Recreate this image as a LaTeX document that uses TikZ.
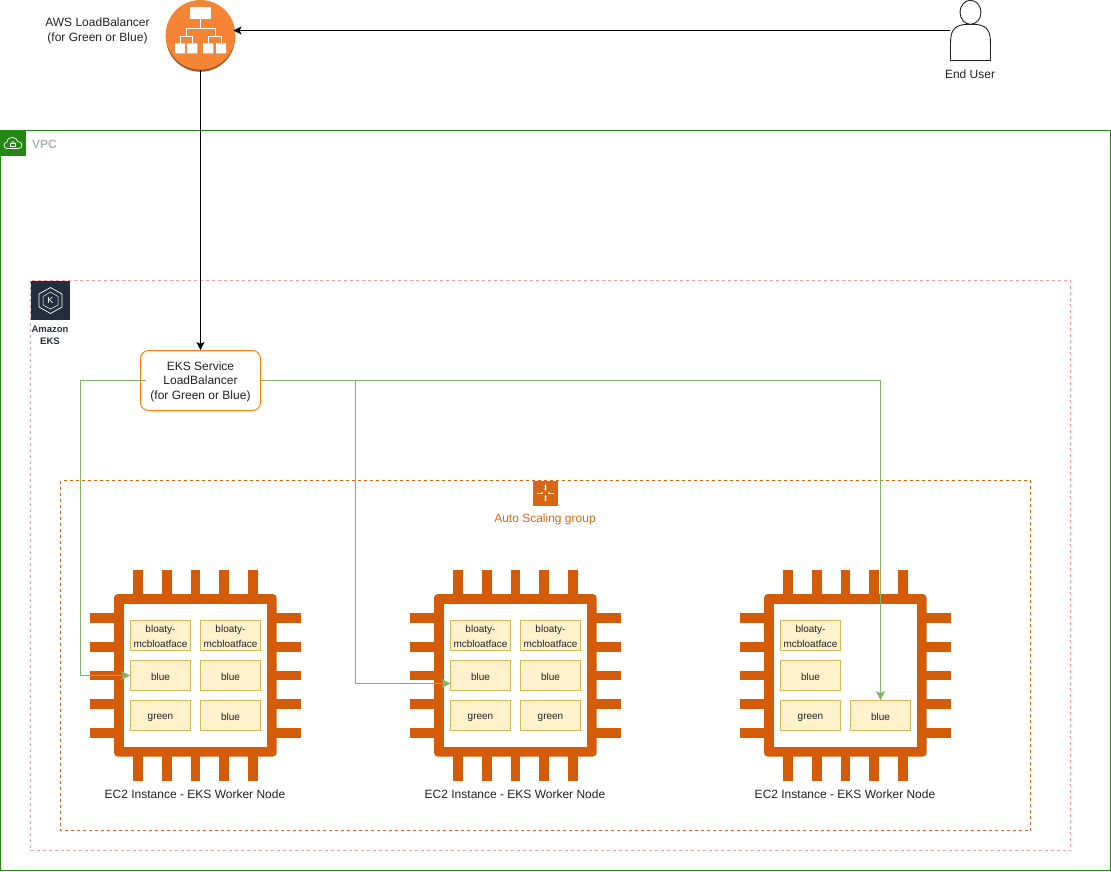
\documentclass[tikz,border=0pt]{standalone}
\usepackage{fontspec}
\setmainfont{Liberation Sans}
\usetikzlibrary{arrows.meta,shapes.geometric}
\definecolor{vpcgreen}{HTML}{248814}
\definecolor{vpcgrey}{HTML}{AAB7B8}
\definecolor{ekspink}{HTML}{FF9999}
\definecolor{asgorange}{HTML}{D86613}
\definecolor{chiporange}{HTML}{D45B07}
\definecolor{podfill}{HTML}{FFF2CC}
\definecolor{podline}{HTML}{D6B656}
\definecolor{linkgreen}{HTML}{82B366}
\definecolor{lborange}{HTML}{F58534}
\definecolor{lbdark}{HTML}{9E5A2C}
\definecolor{eksnavy}{HTML}{232F3E}
\definecolor{svcline}{HTML}{FF8000}
\definecolor{inktext}{HTML}{222222}
\newcommand{\podt}{\leavevmode\rule[-1.6pt]{0pt}{12.6pt}}
\tikzset{
  label12/.style={font=\fontsize{12}{14.5}\selectfont,text=inktext,align=center,inner sep=0pt},
  podbox/.style={draw=podline,fill=podfill,line width=0.9pt,minimum width=60pt,minimum height=30pt,inner sep=0pt,align=center,text=inktext,font=\fontsize{10}{15}\selectfont},
  greenlink/.style={draw=linkgreen,line width=1.2pt,-{Stealth[length=9pt,width=9pt,inset=2pt,fill=linkgreen]}},
  greenplain/.style={draw=linkgreen,line width=1.2pt},
  blacklink/.style={draw=black,line width=1.2pt,-{Stealth[length=8pt,width=8pt,inset=2pt]}},
  iconline/.style={draw=white,line width=0.7pt},
  chip/.pic={
    \foreach \px in {133.3,162,190.7,219,248}{
      \fill[chiporange] (\px,570) rectangle ++(9.6,28);
      \fill[chiporange] (\px,752) rectangle ++(9.6,28.7);
    }
    \foreach \py in {613,642,670.7,699.3,728}{
      \fill[chiporange] (90,\py) rectangle ++(28,9.6);
      \fill[chiporange] (272,\py) rectangle ++(28.7,9.6);
    }
    \fill[chiporange] (114,594) [rounded corners=4pt] rectangle (276.7,756.7);
    \fill[white] (124,604) rectangle (267,747);
  }
}
\begin{document}
\begin{tikzpicture}[x=1pt,y=-1pt]
\useasboundingbox (0,0) rectangle (1111,871);
% VPC group
\draw[vpcgreen,line width=1pt] (0.5,130.5) rectangle (1110.5,870);
\fill[vpcgreen] (0,130) rectangle (25.5,155.5);
\draw[iconline,line join=round] (7,148.5) .. controls (3,148.5) and (3,142.5) .. (7,142)
  .. controls (7.5,138.5) and (10,137) .. (13,137.5) .. controls (15.5,137.5) and (17,139.5) .. (17.5,141.5)
  .. controls (23,141) and (23.5,148.5) .. (18.5,148.5) -- cycle;
\draw[iconline,line width=0.5pt] (10.5,143) rectangle (15.5,146.5);
\draw[iconline,line width=0.5pt] (11.5,143) arc[start angle=180,end angle=0,radius=1.5pt];
\node[anchor=west,inner sep=0pt,text=vpcgrey,font=\fontsize{12}{14}\selectfont\bfseries] (vpclabel) at (32,144) {VPC};
% EKS group
\draw[ekspink,line width=0.9pt,dash pattern=on 3pt off 3pt] (30.5,280.5) rectangle (1070.5,850.5);
\fill[eksnavy] (31,281) rectangle (70,320);
\draw[iconline] (50.5,287.5) -- (62,294) -- (62,307) -- (50.5,313.5) -- (39,307) -- (39,294) -- cycle;
\draw[iconline,line width=0.5pt] (50.5,292) -- (58,296.5) -- (58,305) -- (50.5,309) -- (43,305) -- (43,296.5) -- cycle;
\node[inner sep=0pt,text=white,font=\fontsize{9}{10}\selectfont] (ekskay) at (50.5,300.5) {K};
\node[inner sep=0pt,align=center,text=eksnavy,font=\fontsize{9.5}{12}\selectfont\bfseries] (ekslabel) at (50,335) {Amazon\\EKS};
% Auto Scaling group
\draw[asgorange,line width=0.9pt,dash pattern=on 3pt off 3pt] (60.5,480.5) rectangle (1030.5,830.5);
\fill[asgorange] (533,480.5) rectangle (558,505.5);
\draw[iconline,line width=0.6pt,{Stealth[length=2.5pt,width=2.5pt]}-{Stealth[length=2.5pt,width=2.5pt]}] (545.5,484.5) -- (545.5,491);
\draw[iconline,line width=0.6pt,{Stealth[length=2.5pt,width=2.5pt]}-{Stealth[length=2.5pt,width=2.5pt]}] (545.5,495) -- (545.5,501.5);
\draw[iconline,line width=0.6pt,-{Stealth[length=2.5pt,width=2.5pt]}] (537,493) -- (543.5,493);
\draw[iconline,line width=0.6pt,-{Stealth[length=2.5pt,width=2.5pt]}] (554,493) -- (547.5,493);
\node[inner sep=0pt,text=asgorange,font=\fontsize{12}{14}\selectfont] (asglabel) at (545,519) {Auto Scaling group};
% Chips
\pic at (0,0) {chip};
\pic at (320,0) {chip};
\pic at (650,0) {chip};
\node[label12] (ec2a) at (195,794.5) {EC2 Instance - EKS Worker Node};
\node[label12] (ec2b) at (515,794.5) {EC2 Instance - EKS Worker Node};
\node[label12] (ec2c) at (845,794.5) {EC2 Instance - EKS Worker Node};
% Pods, chip 1
\node[podbox] (a1) at (160.5,635.5) {\podt bloaty-\\\podt mcbloatface};
\node[podbox] (a2) at (230.5,635.5) {\podt bloaty-\\\podt mcbloatface};
\node[podbox] (a3) at (160.5,675.5) {\podt blue};
\node[podbox] (a4) at (230.5,675.5) {\podt blue};
\node[podbox] (a5) at (160.5,715.5) {\podt green};
\node[podbox] (a6) at (230.5,715.5) {\podt blue};
% Pods, chip 2
\node[podbox] (b1) at (480.5,635.5) {\podt bloaty-\\\podt mcbloatface};
\node[podbox] (b2) at (550.5,635.5) {\podt bloaty-\\\podt mcbloatface};
\node[podbox] (b3) at (480.5,675.5) {\podt blue};
\node[podbox] (b4) at (550.5,675.5) {\podt blue};
\node[podbox] (b5) at (480.5,715.5) {\podt green};
\node[podbox] (b6) at (550.5,715.5) {\podt green};
% Pods, chip 3
\node[podbox] (c1) at (810.5,635.5) {\podt bloaty-\\\podt mcbloatface};
\node[podbox] (c3) at (810.5,675.5) {\podt blue};
\node[podbox] (c5) at (810.5,715.5) {\podt green};
\node[podbox] (c6) at (880.5,715.5) {\podt blue};
% Load balancer
\fill[lbdark] (200.5,37.2) circle[radius=34.6pt];
\node[circle,fill=lborange,minimum size=69.6pt,inner sep=0pt] (lb) at (200.5,34.8) {};
\fill[white] (190.3,7.3) rectangle (210.7,19.3);
\draw[white,line width=1pt] (200.5,19) -- (200.5,28.5) (186,36) -- (186,28.5) -- (215,28.5) -- (215,36)
  (180,43) -- (180,36.5) -- (192,36.5) -- (192,43) (208.5,43) -- (208.5,36.5) -- (221,36.5) -- (221,43);
\fill[white] (175,43.3) rectangle (185,53.3) (187,43.3) rectangle (197.3,53.3)
  (203,43.3) rectangle (213.3,53.3) (216,43.3) rectangle (226,53.3);
\node[inner sep=0pt,align=center,text=inktext,font=\fontsize{12}{15}\selectfont] (lblabel) at (97.5,31) {AWS LoadBalancer\\(for Green or Blue)};
% End user
\node[minimum width=40pt,minimum height=60pt,inner sep=0pt] (user) at (970.5,30.5) {};
\draw[inktext,line width=0.9pt] (950.5,60.5) -- (950.5,44)
  .. controls (950.5,32) and (953,26) .. (964,24.5) -- (977,24.5)
  .. controls (988,26) and (990.5,32) .. (990.5,44) -- (990.5,60.5) -- cycle;
\draw[inktext,line width=0.9pt,fill=white] (970.5,12.3) ellipse[x radius=10.5pt,y radius=12pt];
\node[label12] (userlabel) at (970,74.5) {End User};
% EKS service LB
\node[draw=svcline,fill=white,line width=1pt,rounded corners=8pt,minimum width=120pt,minimum height=60pt,inner sep=0pt,label12] (svc) at (200.5,380.5) {\rule{0pt}{11pt}EKS Service\\LoadBalancer\\(for Green or Blue)};
% Connectors
\coordinate (svcwest) at ([xshift=6pt]svc.west);
\coordinate (leftdrop) at (80.5,380.5);
\coordinate (leftturn) at (80.5,675.5);
\coordinate (middrop) at (355.5,380.5);
\coordinate (midturn) at (355.5,683.5);
\coordinate (midend) at (450.5,683.5);
\draw[blacklink,shorten >=-2pt] (user.west) -- (user.west -| lb.east);
\draw[blacklink] (lb.south) -- (svc.north);
\draw[greenlink] (svcwest) -- (leftdrop) -- (leftturn) -- (a3.west);
\draw[greenplain] (svc.east) -- (middrop);
\draw[greenlink] (middrop) -- (midturn) -- (midend);
\draw[greenlink] (svc.east) -| (c6.north);
\end{tikzpicture}
\end{document}
